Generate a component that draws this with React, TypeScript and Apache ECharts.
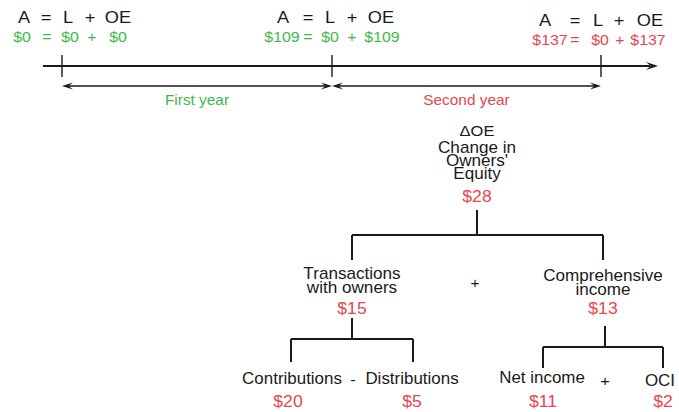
import React, { useEffect, useRef } from "react";
import * as echarts from "echarts";

// ---------- data ----------
const equationTerms = ["A", "=", "L", "+", "OE"];
const assets = [0, 109, 137];
const liabilities = [0, 0, 0];
const ownersEquity = [0, 109, 137];
const snapshotColors = ["green", "green", "red"];
const periodLabels = ["First year", "Second year"];
const periodColors = ["green", "red"];

const rootLabel = ["ΔOE", "Change in", "Owners'", "Equity"];
const rootValue = 28;
const level2Labels = [["Transactions", "with owners"], ["Comprehensive", "income"]];
const level2Values = [15, 13];
const level2Operator = "+";
const level3Labels = [["Contributions", "Distributions"], ["Net income", "OCI"]];
const level3Values = [[20, 5], [11, 2]];
const level3Operators = ["-", "+"];

// ---------- layout / style ----------
const COLORS: Record<string, string> = { green: "#3fb74b", red: "#e8454f", black: "#1a1a1a" };
const FONT = "Liberation Sans, Arial, sans-serif";
const SX = 1.1;

const snapX = [
  [24, 46, 68, 90, 118],
  [283, 308, 330, 352, 381],
  [545, 575, 598, 619, 650],
];
const snapValX = [
  [22, 47, 70, 92, 118],
  [282, 308, 330, 352, 382],
  [550, 575, 600, 620, 648],
];
const snapHeadY = [17, 17, 20];
const snapValY = [37, 37, 40];
const tickX = [62, 332, 601];
const lineY = 66;
const periodArrowY = 86;
const periodLabelY = 100;

function txt(text: string, x: number, y: number, size: number, color: string, sx = SX) {
  return {
    type: "text",
    x,
    y,
    scaleX: sx,
    style: {
      text,
      x: 0,
      y: 0,
      fill: COLORS[color],
      font: `${size}px ${FONT}`,
      align: "center",
      verticalAlign: "middle",
    },
    silent: true,
  };
}
function ln(x1: number, y1: number, x2: number, y2: number, w = 2) {
  return {
    type: "line",
    shape: { x1, y1, x2, y2 },
    style: { stroke: COLORS.black, lineWidth: w },
    silent: true,
  };
}
function arrowHead(x: number, y: number, dir: number, len = 10, half = 3.5) {
  return {
    type: "polygon",
    shape: { points: [[x, y], [x - dir * len, y - half], [x - dir * len * 0.6, y], [x - dir * len, y + half]] },
    style: { fill: COLORS.black },
    silent: true,
  };
}
const money = (v: number) => `$${v}`;

function buildGraphics() {
  const els: any[] = [];
  // equations
  for (let i = 0; i < assets.length; i++) {
    equationTerms.forEach((t, j) => els.push(txt(t, snapX[i][j], snapHeadY[i], 16, "black", 1.14)));
    const vals = [money(assets[i]), "=", money(liabilities[i]), "+", money(ownersEquity[i])];
    vals.forEach((t, j) => els.push(txt(t, snapValX[i][j], snapValY[i], 15, snapshotColors[i], 1.06)));
  }
  // timeline
  els.push(ln(43, lineY, 650, lineY, 2));
  els.push(arrowHead(658, lineY, 1, 12, 4));
  tickX.forEach((x) => els.push(ln(x, lineY - 11, x, lineY + 11, 1.4)));
  periodLabels.forEach((p, i) => {
    const a = tickX[i], b = tickX[i + 1];
    els.push(ln(a + 6, periodArrowY, b - 6, periodArrowY, 1.6));
    els.push(arrowHead(a, periodArrowY, -1, 11, 3.5));
    els.push(arrowHead(b, periodArrowY, 1, 11, 3.5));
    els.push(txt(p, (a + b) / 2, periodLabelY, 14, periodColors[i], 1.1));
  });
  // tree root
  const rx = 477;
  els.push(txt(rootLabel[0], rx, 131, 15, "black"));
  els.push(txt(rootLabel[1], rx, 148, 16, "black", 1.07));
  els.push(txt(rootLabel[2], rx, 161, 16, "black", 1.07));
  els.push(txt(rootLabel[3], rx, 174, 16, "black", 1.07));
  els.push(txt(money(rootValue), rx, 197, 16, "red"));
  els.push(ln(rx, 210, rx, 235));
  const l2x = [352, 603];
  els.push(ln(l2x[0], 235, l2x[1], 235));
  l2x.forEach((x) => els.push(ln(x, 235, x, 260)));
  // level 2
  const l2LabelY = [[274, 288], [276, 290]];
  level2Labels.forEach((lab, i) => {
    lab.forEach((t, k) => els.push(txt(t, l2x[i], l2LabelY[i][k], 16, "black", 1.07)));
    els.push(txt(money(level2Values[i]), l2x[i], 309, 16, "red"));
  });
  els.push(txt(level2Operator, 475, 283, 14, "black"));
  // level 2 -> 3 connectors
  const l3x = [[291, 413], [543, 663]];
  const stemX = [352, 605];
  const stemTop = [318, 326];
  const barY = [339, 347];
  const dropY = [362, 368];
  l3x.forEach((xs, i) => {
    els.push(ln(stemX[i], stemTop[i], stemX[i], barY[i]));
    els.push(ln(xs[0], barY[i], xs[1], barY[i]));
    xs.forEach((x) => els.push(ln(x, barY[i], x, dropY[i])));
  });
  // level 3
  const l3LabelX = [[292, 412], [542, 660]];
  const l3LabelY = [[378, 378], [377, 380]];
  const l3ValX = [[288, 412], [543, 663]];
  const opX = [353, 605];
  const opY = [380, 381];
  level3Labels.forEach((labs, i) => {
    labs.forEach((t, k) => {
      els.push(txt(t, l3LabelX[i][k], l3LabelY[i][k], 16, "black", 1.06));
      els.push(txt(money(level3Values[i][k]), l3ValX[i][k], 402, 16, "red"));
    });
    els.push(txt(level3Operators[i], opX[i], opY[i], 15, "black"));
  });
  return els;
}

export default function App() {
  const ref = useRef<HTMLDivElement>(null);
  useEffect(() => {
    document.body.style.margin = "0";
    const chart = echarts.init(ref.current!, undefined, { renderer: "svg" });
    chart.setOption({
      animation: false,
      backgroundColor: "#ffffff",
      graphic: { elements: buildGraphics() },
    });
    return () => chart.dispose();
  }, []);
  return <div ref={ref} style={{ width: 679, height: 412, position: "absolute", left: 0, top: 0 }} />;
}
